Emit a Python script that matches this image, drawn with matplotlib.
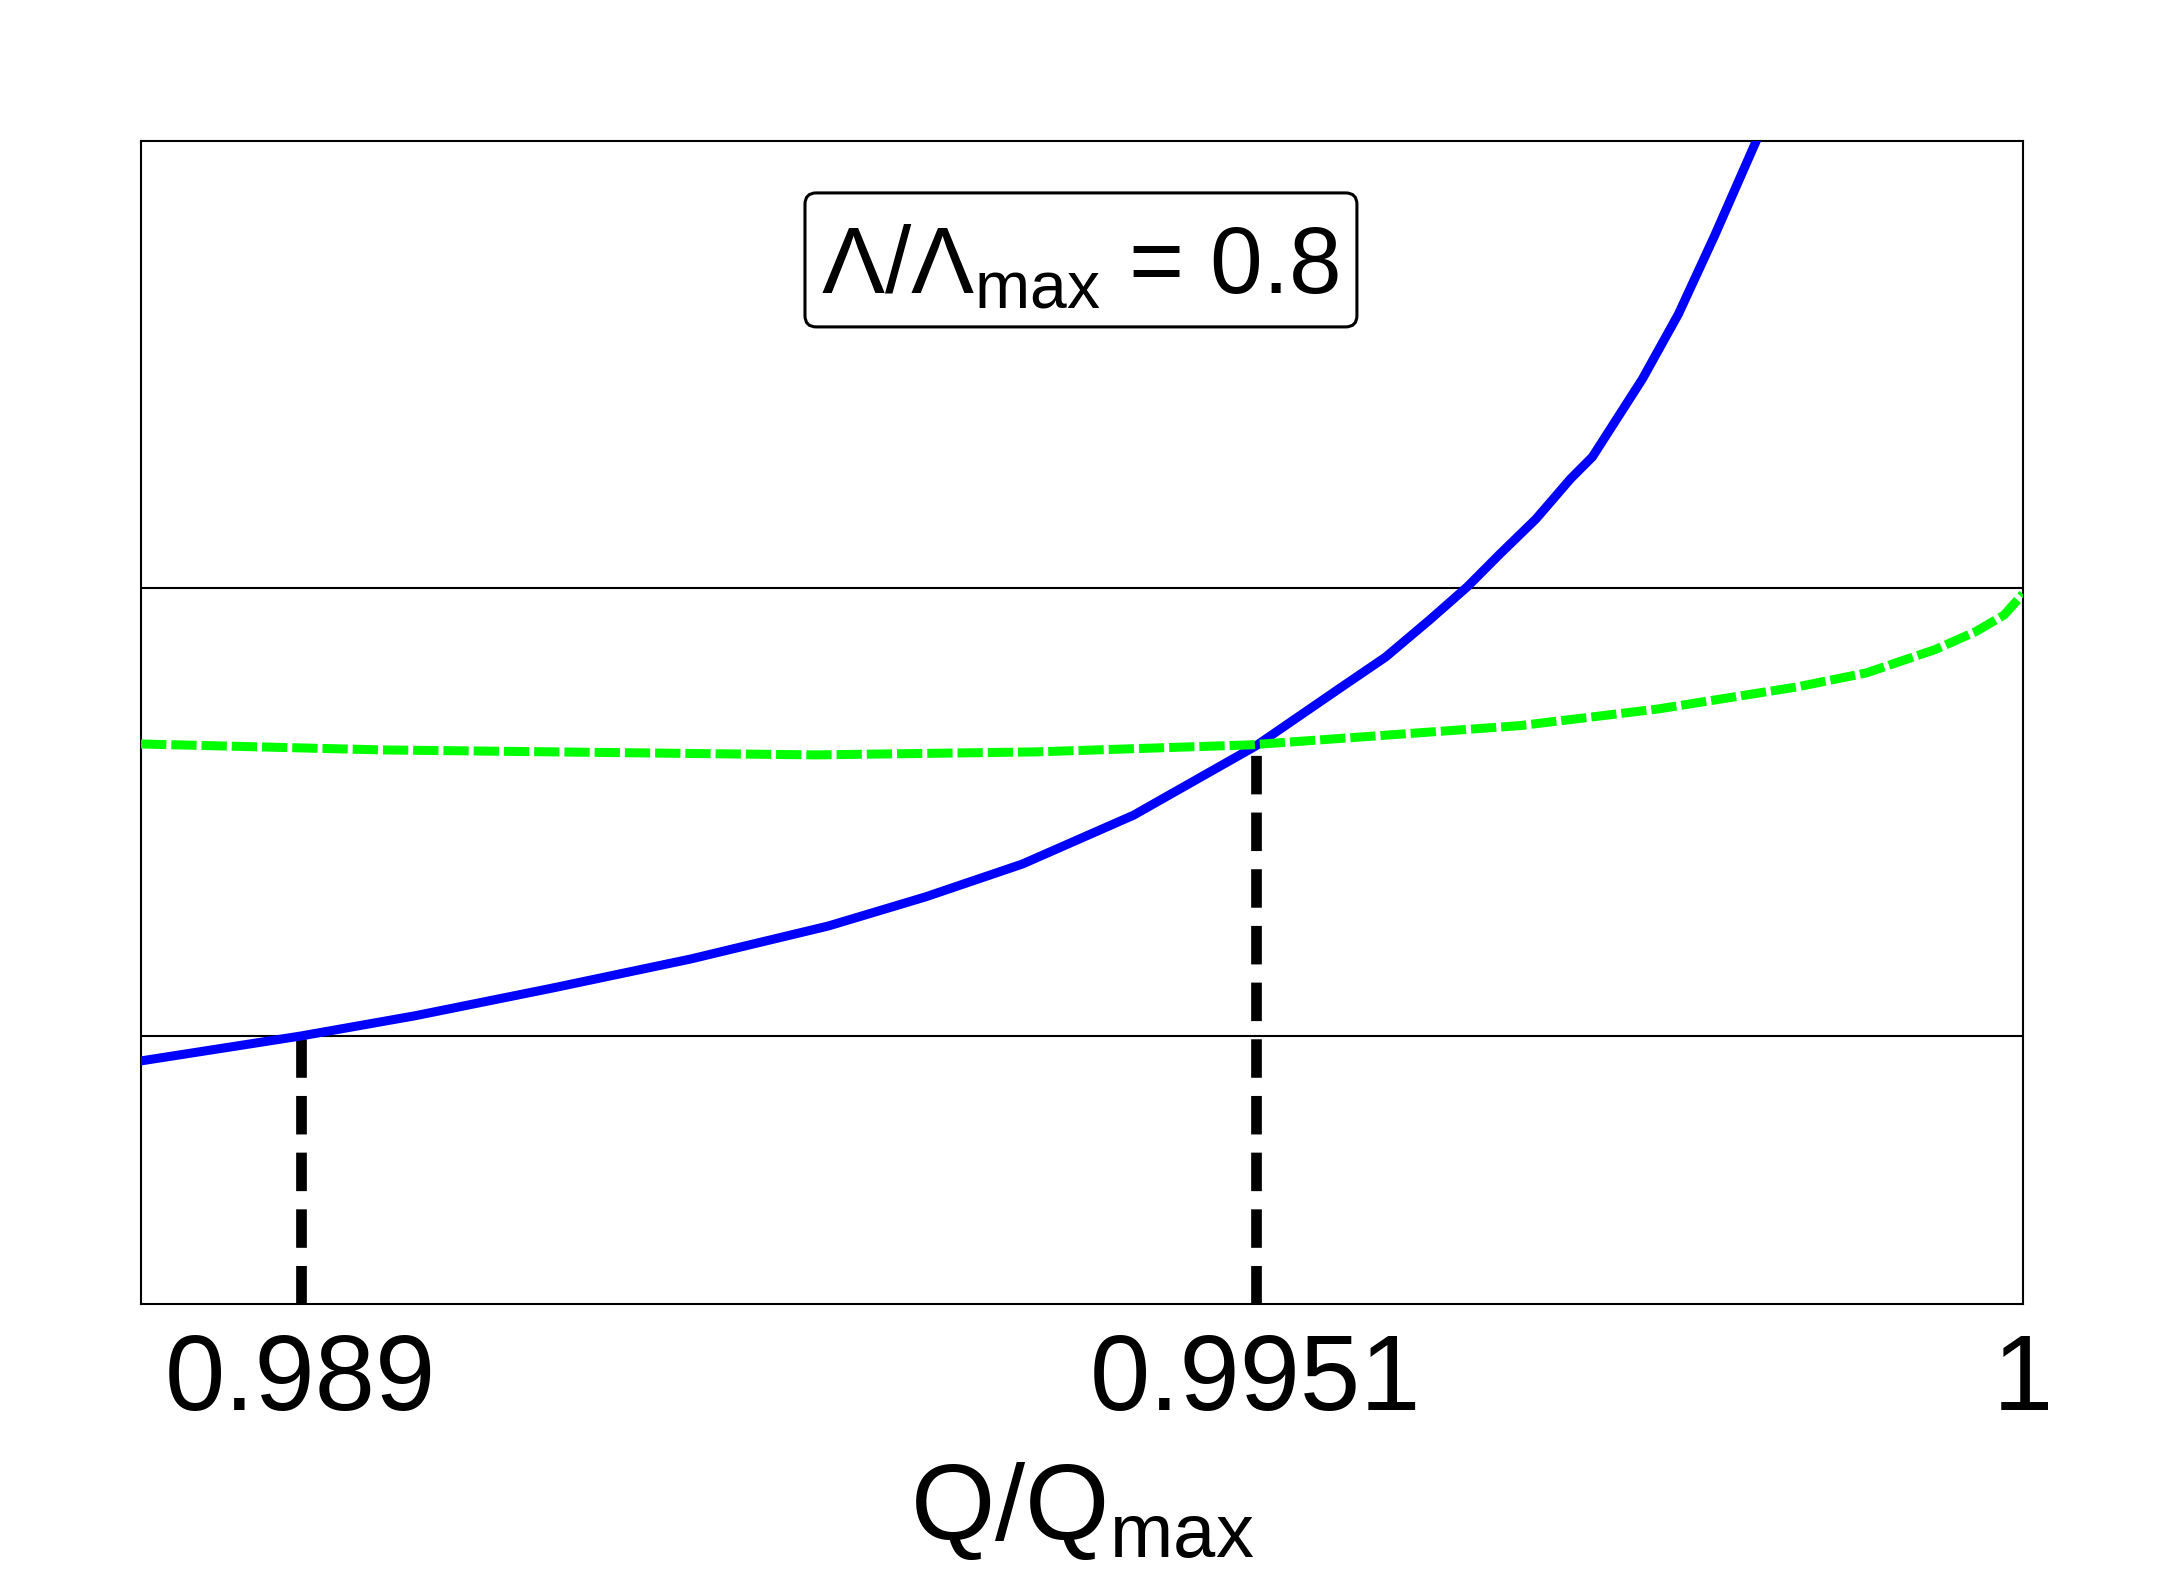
import numpy as np
import matplotlib
matplotlib.use("Agg")
import matplotlib.pyplot as plt
from matplotlib.patches import FancyBboxPatch

plt.rcParams['font.family'] = ['Liberation Sans', 'DejaVu Sans']
plt.rcParams['mathtext.fontset'] = 'custom'
plt.rcParams['mathtext.rm'] = 'Liberation Sans'
plt.rcParams['mathtext.it'] = 'Liberation Sans:italic'

# blue solid curve (y in arbitrary units)
q_blue = [0.98798, 0.98900, 0.98973, 0.99061, 0.99149, 0.99237, 0.99299,
          0.99361, 0.99432, 0.99510, 0.99563, 0.99593, 0.99621, 0.99645,
          0.99666, 0.99689, 0.99711, 0.99725, 0.99757, 0.99780, 0.99803,
          0.99830]
y_blue = [0.209, 0.2304, 0.2478, 0.2717, 0.2966, 0.3250, 0.3500,
          0.3783, 0.4203, 0.4798, 0.5288, 0.5563, 0.5881, 0.6165,
          0.6449, 0.6750, 0.7094, 0.7283, 0.7954, 0.8512, 0.9183,
          1.001]

# green dashed curve
q_green = [0.98798, 0.98952, 0.99229, 0.99370, 0.99506, 0.99679, 0.99767,
           0.99856, 0.99900, 0.99944, 0.99970, 0.99988, 1.00000]
y_green = [0.4815, 0.4764, 0.4721, 0.4747, 0.4807, 0.4973, 0.5116,
           0.5306, 0.5426, 0.5627, 0.5782, 0.5924, 0.6105]

# horizontal reference levels
levels = [0.2304, 0.6157]

# crossing points marked by vertical dashed lines
q_cross = [0.989, 0.9951]
y_cross = [0.2304, 0.4798]

xticks = [0.989, 0.9951, 1.0]
xticklabels = ['0.989', '0.9951', '1']

fig = plt.figure(figsize=(21.67, 15.8), dpi=100)
ax = fig.add_axes([0.0651, 0.1747, 0.8684, 0.7361])

for lv in levels:
    ax.axhline(lv, color='black', lw=1.5, zorder=1)

for qc, yc in zip(q_cross, y_cross):
    ax.plot([qc, qc], [0, yc], color='black', lw=7.7, dashes=(3.6, 1.7),
            solid_capstyle='butt', dash_capstyle='butt', zorder=2)

ax.plot(q_blue, y_blue, color='#0000ff', lw=6.5, zorder=3,
        solid_joinstyle='round')
ax.plot(q_green, y_green, color='#00ff00', lw=6.5, dashes=(2.8, 0.55),
        dash_capstyle='butt', dash_joinstyle='round', zorder=4)

ax.set_xlim(0.98798, 1.0)
ax.set_ylim(0, 1)
ax.set_xticks(xticks)
ax.set_xticklabels(xticklabels)
ax.set_yticks([])
ax.tick_params(axis='x', length=0, pad=20, labelsize=78)
for sp in ax.spines.values():
    sp.set_linewidth(1.5)

ax.set_xlabel(r'Q/Q$_{\mathrm{max}}$', fontsize=78, labelpad=20)

# annotation box
box = FancyBboxPatch((0.3528, 0.8401), 0.2933, 0.1152,
                     boxstyle='round,pad=0,rounding_size=0.006',
                     mutation_aspect=1.62, transform=ax.transAxes,
                     fc='white', ec='black', lw=2.2, zorder=5)
ax.add_patch(box)
ax.text(0.499, 0.8685, r'$\Lambda/\Lambda_{\mathrm{max}}$ = 0.8', fontsize=68,
        ha='center', va='baseline', transform=ax.transAxes, zorder=6)

fig.savefig('out.png', dpi=100)
